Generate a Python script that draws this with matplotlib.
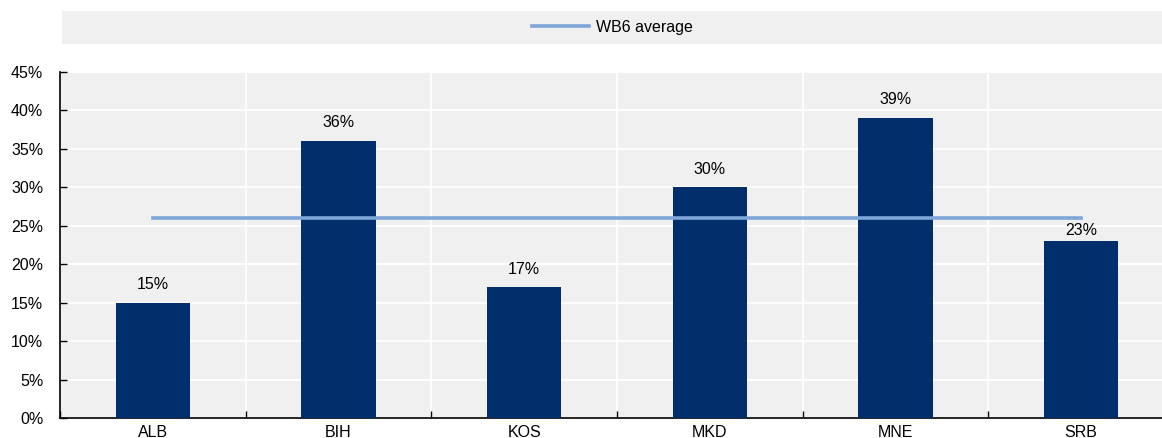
import numpy as np
import matplotlib.pyplot as plt
from matplotlib.ticker import MultipleLocator, FuncFormatter

countries = ['ALB', 'BIH', 'KOS', 'MKD', 'MNE', 'SRB']
shares = [15, 36, 17, 30, 39, 23]
wb6_average = 26

plt.rcParams['font.family'] = ['Liberation Sans', 'DejaVu Sans']
plt.rcParams['font.size'] = 11.5

W, H = 1162, 438
fig = plt.figure(figsize=(W / 100, H / 100), dpi=100)

# main plot area (slightly wider than the figure, right side clipped)
ax = fig.add_axes([60 / W, (H - 418) / H, 1114 / W, 346 / H])
ax.set_facecolor('#f0f0f0')

x = np.arange(len(countries))
ax.bar(x, shares, width=0.4, color='#002f6c', zorder=3)
line, = ax.plot([x[0], x[-1]], [wb6_average, wb6_average], color='#7ea6d8',
                lw=2.6, zorder=4, label='WB6 average')

for xi, v in zip(x, shares):
    # keep the label clear of the average line when the bar sits just below it
    gap = 0.45 if 0 < wb6_average - v < 4 else 1.4
    ax.text(xi, v + gap, f'{v}%', ha='center', va='bottom', color='black',
            zorder=5)

ax.set_xlim(-0.5, len(countries) - 0.5)
ax.set_ylim(0, 45)
ax.yaxis.set_major_locator(MultipleLocator(5))
ax.yaxis.set_major_formatter(FuncFormatter(lambda v, p: f'{v:.0f}%'))
ax.set_xticks(x)
ax.set_xticklabels(countries)
ax.set_xticks(np.arange(len(countries) + 1) - 0.5, minor=True)

ax.grid(True, which='major', axis='y', color='white', lw=1.3, zorder=1)
ax.grid(True, which='minor', axis='x', color='white', lw=1.3, zorder=1)
ax.tick_params(axis='x', which='major', length=0, pad=5)
ax.tick_params(axis='x', which='minor', direction='in', length=5, width=1)
ax.tick_params(axis='y', direction='in', length=5, width=1, pad=12)
for s in ['top', 'right']:
    ax.spines[s].set_visible(False)
for s in ['left', 'bottom']:
    ax.spines[s].set_linewidth(1.2)
    ax.spines[s].set_color('black')

# legend strip on top
lax = fig.add_axes([62 / W, (H - 44) / H, 1100 / W, 33 / H])
lax.set_facecolor('#f0f0f0')
lax.set_xticks([])
lax.set_yticks([])
for s in lax.spines.values():
    s.set_visible(False)
lax.legend(handles=[line], loc='center', frameon=False, handlelength=3.6,
           handletextpad=0.4, borderaxespad=0, bbox_to_anchor=(0.5, 0.5))

fig.savefig('out.png', dpi=100)
